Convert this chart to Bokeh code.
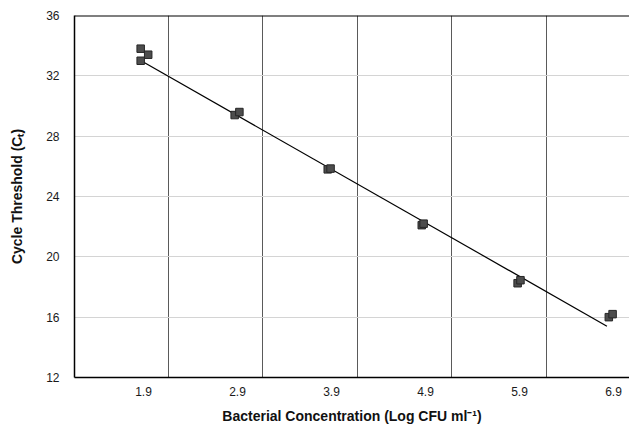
from bokeh.plotting import figure
from bokeh.models import FixedTicker, Span, Range1d
from bokeh.embed import file_html
from bokeh.resources import INLINE

# Data
conc = [1.87, 1.95, 1.87, 2.87, 2.92, 3.86, 3.89, 4.86, 4.88, 5.88, 5.91, 6.85, 6.89]
ct = [33.8, 33.4, 33.0, 29.4, 29.6, 25.8, 25.85, 22.1, 22.2, 18.25, 18.45, 16.0, 16.2]

x_ticks = [1.9, 2.9, 3.9, 4.9, 5.9, 6.9]
x_grid = [2.166, 3.17, 4.175, 5.18, 6.185]
y_ticks = [12, 16, 20, 24, 28, 32, 36]

trend_slope = -3.55
trend_intercept = 39.65
trend_x = [1.87, 6.83]
trend_y = [trend_intercept + trend_slope * v for v in trend_x]

FONT = "Liberation Sans"

p = figure(width=629, height=426, output_backend="svg", toolbar_location=None,
           x_range=Range1d(1.166, 7.07), y_range=Range1d(12, 36),
           min_border_left=74, min_border_right=0, min_border_top=15, min_border_bottom=48)
p.title.visible = False
p.outline_line_color = None
p.background_fill_color = "white"
p.border_fill_color = "white"

# grids
p.xgrid.ticker = FixedTicker(ticks=x_grid)
p.xgrid.grid_line_color = "#5a5a5a"
p.xgrid.grid_line_width = 1
p.ygrid.ticker = FixedTicker(ticks=y_ticks[1:-1])
p.ygrid.grid_line_color = "#d4d4d4"
p.ygrid.grid_line_width = 1

# top border
p.add_layout(Span(location=36, dimension="width", line_color="black", line_width=2))

# axes
p.xaxis.ticker = FixedTicker(ticks=x_ticks)
p.xaxis.major_label_overrides = {v: f"{v:.1f}" for v in x_ticks}
p.yaxis.ticker = FixedTicker(ticks=y_ticks)
for ax in (p.xaxis, p.yaxis):
    ax.major_tick_line_color = None
    ax.minor_tick_line_color = None
    ax.axis_line_color = "black"
    ax.axis_line_width = 1.5
    ax.major_label_text_font = FONT
    ax.major_label_text_font_size = "12px"
    ax.major_label_text_color = "#1a1a1a"
    ax.axis_label_text_font = FONT
    ax.axis_label_text_font_size = "14px"
    ax.axis_label_text_font_style = "bold"
    ax.axis_label_text_color = "#111111"

p.xaxis.axis_label = "Bacterial Concentration (Log CFU ml\u207b\u00b9)"
p.yaxis.axis_label = "Cycle Threshold (C\u209c)"
p.xaxis.major_label_standoff = 3
p.xaxis.axis_label_standoff = 9
p.yaxis.major_label_standoff = 9
p.yaxis.axis_label_standoff = 18

# trend line
p.line(trend_x, trend_y, line_color="black", line_width=1.2)

# points
p.scatter(conc, ct, marker="square", size=7.5, fill_color="#4d4d4d",
          line_color="#262626", line_width=1)

open("out.html", "w").write(file_html(p, INLINE))
